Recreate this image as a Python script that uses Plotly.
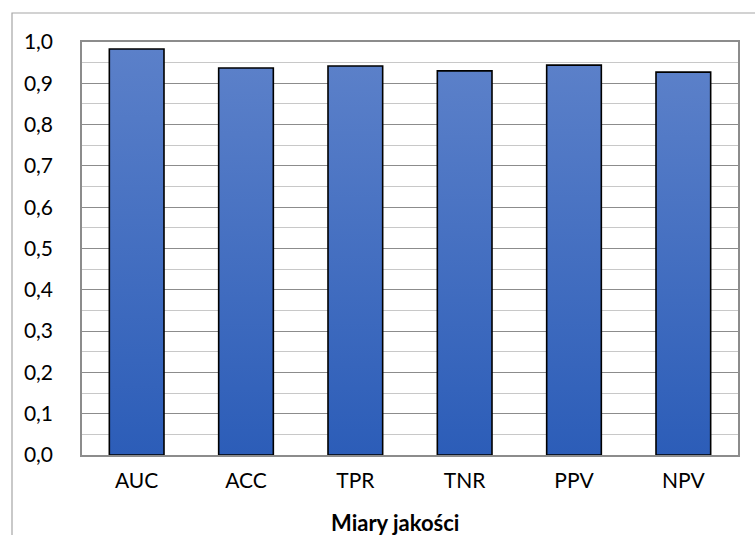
import plotly.graph_objects as go

categories = ["AUC", "ACC", "TPR", "TNR", "PPV", "NPV"]
values = [0.983, 0.937, 0.942, 0.930, 0.944, 0.927]
y_ticks = [0.0, 0.1, 0.2, 0.3, 0.4, 0.5, 0.6, 0.7, 0.8, 0.9, 1.0]
x_title = "Miary jakości"

BAR_HALF = 0.25
TOP_COLOR = "#5B80C9"
BOTTOM_COLOR = "#2C5DB8"

fig = go.Figure()
for i, (cat, v) in enumerate(zip(categories, values)):
    xs = [i - BAR_HALF, i + BAR_HALF, i + BAR_HALF, i - BAR_HALF, i - BAR_HALF]
    ys = [0, 0, v, v, 0]
    fig.add_trace(go.Scatter(
        x=xs, y=ys, mode="lines", fill="toself",
        fillgradient=dict(type="vertical",
                          colorscale=[[0, BOTTOM_COLOR], [1, TOP_COLOR]]),
        line=dict(color="black", width=1.6),
        hoverinfo="skip", showlegend=False, name=cat,
    ))

L, T, R, B = 82, 42, 738, 455
W, H = 755, 535
pw, ph = R - L, B - T

fig.update_layout(
    width=W, height=H,
    margin=dict(l=L, r=W - R, t=T, b=H - B),
    paper_bgcolor="white", plot_bgcolor="white",
    separators=", ",
    font=dict(family="Lato, 'Open Sans', sans-serif", size=21, color="#000000"),
    showlegend=False,
    xaxis=dict(
        range=[-0.5, len(categories) - 0.5],
        tickvals=list(range(len(categories))), ticktext=categories,
        showgrid=False, zeroline=False,
        showline=True, linecolor="#8C8C8C", linewidth=1.5, mirror=True,
        ticks="", ticklabelstandoff=6,
        tickfont=dict(size=21),
    ),
    yaxis=dict(
        range=[0, 1.0],
        tickvals=y_ticks, tickformat=".1f",
        showgrid=True, gridcolor="#8C8C8C", gridwidth=1.2,
        zeroline=False,
        showline=True, linecolor="#8C8C8C", linewidth=1.5, mirror=True,
        ticks="", ticklabelstandoff=23,
        tickfont=dict(size=21),
        minor=dict(dtick=0.05, showgrid=True, gridcolor="#C8C8C8", gridwidth=1.2),
    ),
)

# axis title (centred on the whole chart area, as in the original)
fig.add_annotation(
    text="<b>" + x_title + "</b>", xref="paper", yref="paper",
    x=(395 - L) / pw, y=-(522 - B) / ph, xanchor="center", yanchor="middle",
    showarrow=False, font=dict(size=22),
)

# outer chart border (cropped at right and bottom)
fig.add_shape(
    type="rect", xref="paper", yref="paper",
    x0=(12 - L) / pw, x1=(W + 20 - L) / pw,
    y0=-(H + 20 - B) / ph, y1=(B - 13) / ph,
    line=dict(color="#A6A6A6", width=1.2), fillcolor="rgba(0,0,0,0)",
    layer="below",
)

fig.write_html("out.html", config={"displayModeBar": False},
               post_script="document.body.style.margin='0';document.body.style.overflow='hidden';")
